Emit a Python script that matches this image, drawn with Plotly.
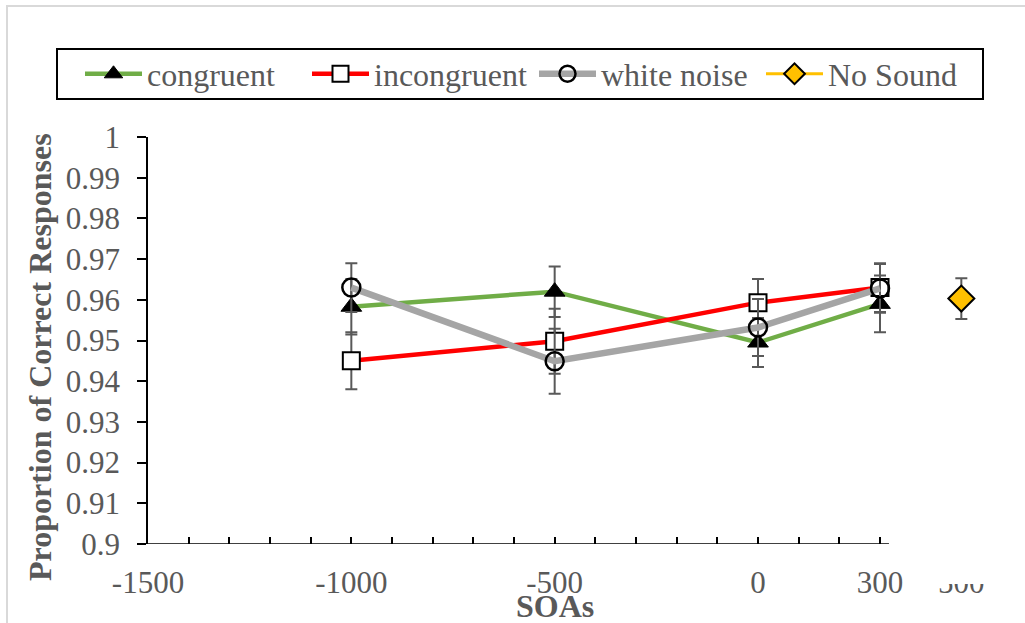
import plotly.graph_objects as go

# ---- data ----
soa = [-1000, -500, 0, 300]
congruent = [0.9583, 0.9620, 0.9495, 0.9590]
congruent_err = [0.0068, 0.0062, 0.0060, 0.0070]
incongruent = [0.9450, 0.9498, 0.9593, 0.9630]
incongruent_err = [0.0070, 0.0080, 0.0058, 0.0060]
white_noise = [0.9630, 0.9449, 0.9532, 0.9628]
white_noise_err = [0.0060, 0.0080, 0.0070, 0.0060]
no_sound_x = [500]
no_sound = [0.9603]
no_sound_err = [0.0050]

y_ticks = [0.90, 0.91, 0.92, 0.93, 0.94, 0.95, 0.96, 0.97, 0.98, 0.99, 1.00]
y_labels = ["0.9", "0.91", "0.92", "0.93", "0.94", "0.95", "0.96", "0.97", "0.98", "0.99", "1"]
x_minor_ticks = list(range(-1500, 301, 100))
x_major_ticks = [-1500, -1000, -500, 0]
x_labels = {-1500: "-1500", -1000: "-1000", -500: "-500", 0: "0", 300: "300"}
x_hidden_label = "500"

FONT = "Liberation Serif, Times New Roman, serif"
TXT = "#595959"
ERR = "#595959"

fig = go.Figure()

def err(arr):
    return dict(type="data", array=arr, visible=True, color=ERR, thickness=2, width=6)

fig.add_trace(go.Scatter(
    x=soa, y=congruent, name="congruent", mode="lines+markers",
    line=dict(color="#70AD47", width=4.5),
    marker=dict(symbol="triangle-up", size=18, color="black", line=dict(color="black", width=1)),
    error_y=err(congruent_err)))
fig.add_trace(go.Scatter(
    x=soa, y=incongruent, name="incongruent", mode="lines+markers",
    line=dict(color="#FF0000", width=4.5),
    marker=dict(symbol="square", size=17, color="white", line=dict(color="black", width=2)),
    error_y=err(incongruent_err)))
fig.add_trace(go.Scatter(
    x=soa, y=white_noise, name="white noise", mode="lines+markers",
    line=dict(color="#A5A5A5", width=6.5),
    marker=dict(symbol="circle", size=18, color="rgba(255,255,255,0)", line=dict(color="black", width=2.5)),
    error_y=err(white_noise_err)))
fig.add_trace(go.Scatter(
    x=no_sound_x, y=no_sound, name="No Sound", mode="lines+markers",
    line=dict(color="#FFC000", width=3),
    marker=dict(symbol="diamond", size=20, color="#FFC000", line=dict(color="black", width=2)),
    error_y=err(no_sound_err)))

W, H = 1025, 623
L, R, T, B = 148, 23, 137, 79
pw, ph = W - L - R, H - T - B

def px(xp):
    return (xp - L) / pw

def py(yp):
    return (H - B - yp) / ph

fig.update_layout(
    width=W, height=H,
    margin=dict(l=L, r=R, t=T, b=B),
    paper_bgcolor="white", plot_bgcolor="white",
    font=dict(family=FONT, size=31, color=TXT),
    showlegend=True,
    legend=dict(
        orientation="h", x=px(80), y=py(74), xanchor="left", yanchor="middle",
        font=dict(family=FONT, size=32, color=TXT),
        bgcolor="rgba(0,0,0,0)", borderwidth=0, itemwidth=57,
        entrywidth=155, entrywidthmode="pixels",
    ),
    xaxis=dict(
        range=[-1500, 600], showgrid=False, zeroline=False, showline=False,
        tickmode="array", tickvals=x_minor_ticks,
        ticktext=[x_labels.get(v, "") for v in x_minor_ticks],
        ticks="inside", ticklen=7, tickwidth=1.5, tickcolor="black",
        tickfont=dict(family=FONT, size=31, color=TXT), ticklabelstandoff=17,
    ),
    xaxis2=dict(
        overlaying="x", anchor="y", range=[-1500, 600], showgrid=False, zeroline=False,
        showline=False, tickmode="array", tickvals=x_major_ticks, ticks="outside",
        ticklen=9, tickwidth=1.5, tickcolor="black", showticklabels=False,
    ),
    yaxis=dict(
        range=[0.9, 1.0], showgrid=False, zeroline=False, showline=True,
        linecolor="black", linewidth=1.5,
        tickmode="array", tickvals=y_ticks, ticktext=y_labels,
        ticks="outside", ticklen=9, tickwidth=1.5, tickcolor="black",
        tickfont=dict(family=FONT, size=31, color=TXT), ticklabelstandoff=11,
    ),
    yaxis2=dict(
        overlaying="y", anchor="x", side="left", range=[0.9, 1.0], showgrid=False,
        zeroline=False, showline=False, tickmode="array", tickvals=y_ticks,
        ticks="inside", ticklen=9, tickwidth=1.5, tickcolor="black", showticklabels=False,
    ),
    shapes=[
        # chart-area border
        dict(type="rect", xref="paper", yref="paper", x0=px(7), y0=py(6), x1=px(1032), y1=py(632),
             line=dict(color="#D9D9D9", width=2), fillcolor="rgba(0,0,0,0)", layer="below"),
        # legend frame
        dict(type="rect", xref="paper", yref="paper", x0=px(57), y0=py(49), x1=px(983), y1=py(99),
             line=dict(color="black", width=2), fillcolor="rgba(0,0,0,0)"),
        # horizontal axis line (ends just past 300)
        dict(type="line", xref="x", yref="y", x0=-1500, x1=322, y0=0.9, y1=0.9,
             line=dict(color="black", width=1.5)),
    ],
    annotations=[
        dict(text="<b>Proportion of Correct Responses</b>", xref="paper", yref="paper",
             x=px(40), y=py(357), textangle=-90, showarrow=False,
             xanchor="center", yanchor="middle", font=dict(family=FONT, size=32, color=TXT)),
        dict(text="<b>SOAs</b>", xref="paper", yref="paper", x=px(555), y=py(606),
             showarrow=False, xanchor="center", yanchor="middle",
             font=dict(family=FONT, size=32, color=TXT)),
        dict(text=x_hidden_label, xref="x", yref="paper", x=500, y=py(582),
             showarrow=False, xanchor="center", yanchor="middle",
             font=dict(family=FONT, size=31, color=TXT)),
        dict(text=" ", xref="x", yref="paper", x=500, y=py(572),
             showarrow=False, xanchor="center", yanchor="middle",
             width=70, height=24, bgcolor="white", borderpad=0, borderwidth=0),
    ],
)

fig.write_html("out.html")
